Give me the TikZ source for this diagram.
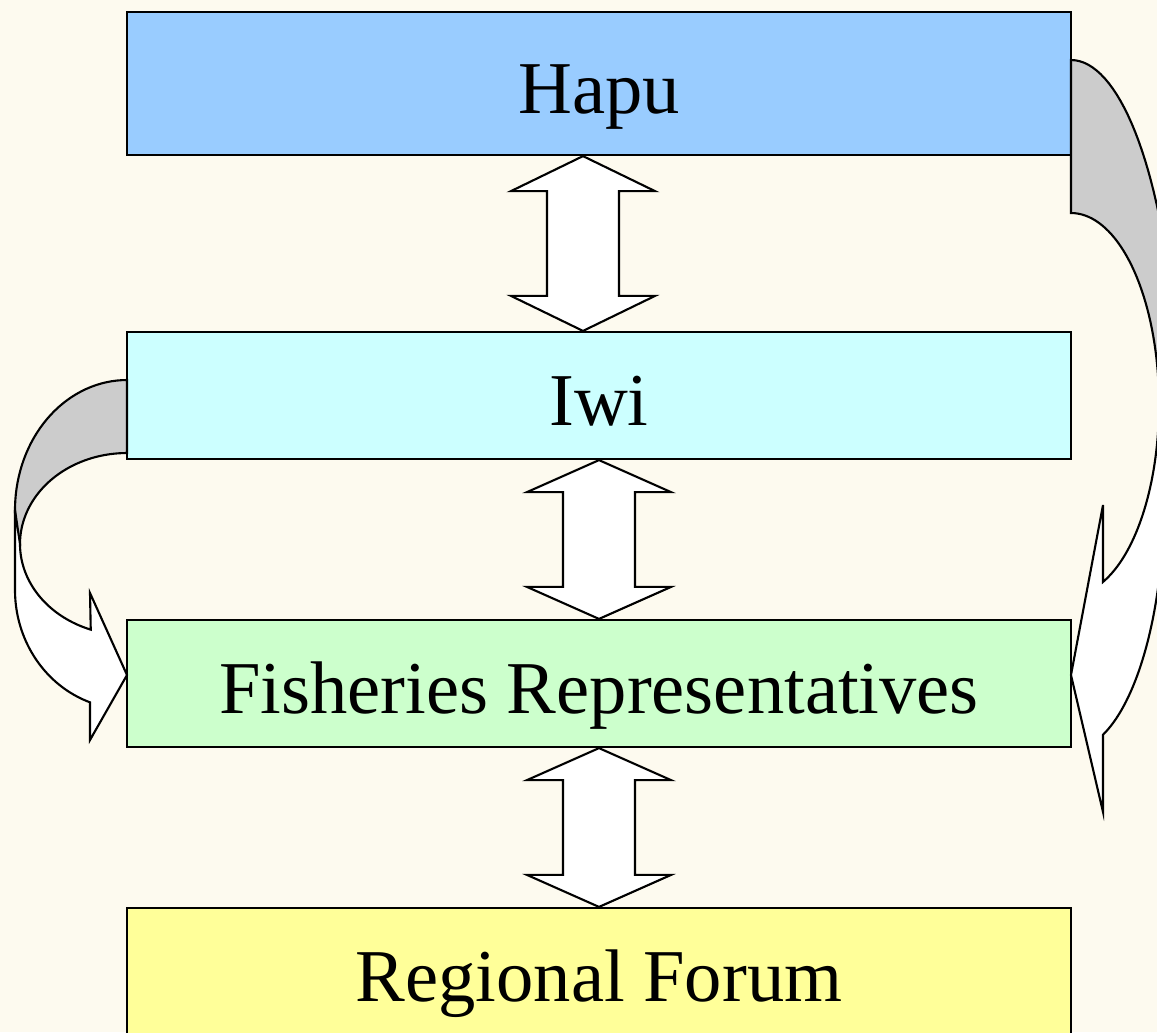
\documentclass[tikz,border=0pt]{standalone}
\usepackage{fontspec}
\setmainfont{Liberation Serif}
\usetikzlibrary{calc}

\definecolor{bgcream}{HTML}{FDFAEF}
\definecolor{hapublue}{HTML}{99CCFF}
\definecolor{iwicyan}{HTML}{CCFFFF}
\definecolor{fishgreen}{HTML}{CCFFCC}
\definecolor{forumyellow}{HTML}{FFFF99}
\definecolor{backgray}{HTML}{CCCCCC}

\tikzset{
  levelbox/.style={draw=black, line width=0.6pt, minimum width=9.44cm, minimum height=1.27cm,
    inner sep=0pt, text height=16.8pt, text depth=0pt, font=\fontsize{21.2}{25}\selectfont},
  blockarrow/.style={draw=black, fill=white, line width=0.6pt, line join=miter},
  backface/.style={draw=black, fill=backgray, line width=0.6pt},
  frontface/.style={draw=black, fill=white, line width=0.6pt, line join=miter}
}

% x position, upper box, lower box, head length
\newcommand*{\UpDownArrow}[4]{%
   \path (#1,0 |- #2.south) coordinate (tipA) (#1,0 |- #3.north) coordinate (tipB);
   \draw[blockarrow] (tipA) -- ++(72,#4) -- ++(-36,0) -- ($(tipB)+(36,-#4)$) -- ++(36,0) -- (tipB)
     -- ++(-72,-#4) -- ++(36,0) -- ($(tipA)+(-36,#4)$) -- ++(-36,0) -- cycle;}

\begin{document}
\begin{tikzpicture}[x=0.01cm, y=-0.01cm]
            \useasboundingbox (0,0) rectangle (1157,1032);
            \fill[bgcream] (0,0) rectangle (1157,1032);
            \clip (0,0) rectangle (1157,1032);
            \node[levelbox, fill=hapublue, minimum height=1.43cm] (hapu) at (599,83.5) {Hapu};
            \node[levelbox, fill=iwicyan] (iwi) at (599,395.5) {Iwi};
            \node[levelbox, fill=fishgreen] (fish) at (599,683.5) {Fisheries Representatives};
            \node[levelbox, fill=forumyellow] (forum) at (599,971.5) {Regional Forum};
            \UpDownArrow{583}{hapu}{iwi}{35}
            \UpDownArrow{599}{iwi}{fish}{32}
            \UpDownArrow{599}{fish}{forum}{32}
            % left curved arrow, Iwi to Fisheries
            \filldraw[backface] plot[domain=-90:-194.7,samples=40] ({127+112*cos(\x)},{510+130*sin(\x)})
              -- plot[domain=180:270,samples=40] ({127+107*cos(\x)},{544+91*sin(\x)}) -- cycle;
            \filldraw[frontface] (15,510) -- (15,590)
              -- plot[domain=180:109.3,samples=40] ({127+112*cos(\x)},{590+119*sin(\x)})
              -- (90,740) -- (127,675) -- (90,593)
              -- plot[domain=109.8:180,samples=40] ({127+107*cos(\x)},{544+91*sin(\x)}) -- cycle;
            % right curved arrow, Hapu to Fisheries
            \filldraw[backface] plot[domain=-90:0,samples=40] ({1071+107*cos(\x)},{420+360*sin(\x)})
              -- plot[domain=0:-90,samples=40] ({1071+88*cos(\x)},{404+191*sin(\x)}) -- cycle;
            \filldraw[frontface] (1178,420)
              -- plot[domain=0:69.9,samples=40] ({1071+93*cos(\x)},{500+250*sin(\x)})
              -- (1103,812) -- (1071,675) -- (1103,505)
              -- plot[domain=68.7:0,samples=40] ({1071+88*cos(\x)},{404+191*sin(\x)}) -- cycle;
          \end{tikzpicture}
\end{document}
